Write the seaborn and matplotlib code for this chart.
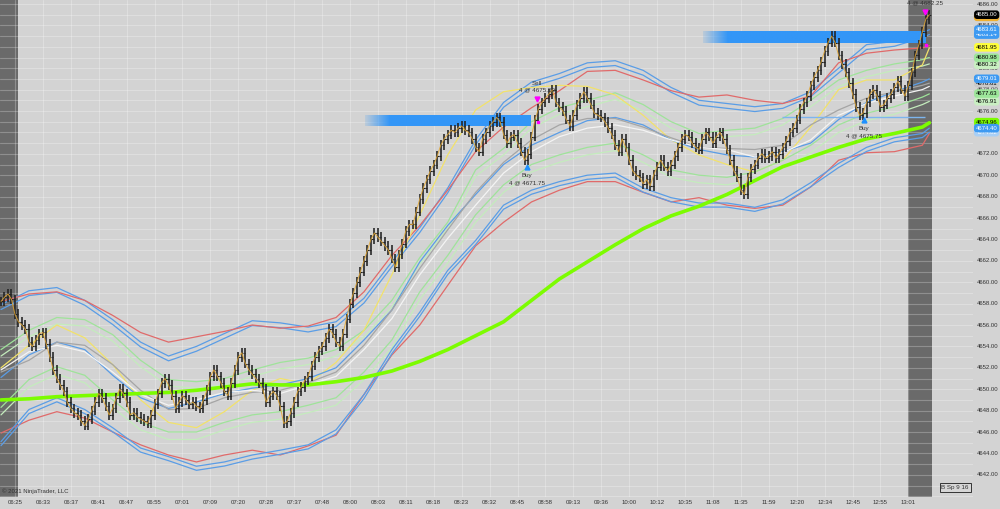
import numpy as np
import matplotlib
matplotlib.use("Agg")
import matplotlib.pyplot as plt
import matplotlib.colors as mcolors
import matplotlib.transforms as mtransforms
import seaborn as sns

# ---------------- data ----------------
closes = [
    4658.2, 4658.6, 4658.9, 4658.4, 4657.0, 4656.3, 4656.0, 4655.6,
    4654.4, 4654.0, 4654.6, 4655.2, 4655.3, 4654.2, 4653.0, 4651.8,
    4651.0, 4650.4, 4649.8, 4648.8, 4648.2, 4647.8, 4647.6, 4647.0,
    4646.6, 4647.2, 4648.0, 4648.8, 4649.6, 4649.2, 4648.4, 4647.6,
    4648.2, 4649.2, 4650.0, 4649.6, 4648.8, 4647.6, 4647.8, 4647.4,
    4647.2, 4647.0, 4646.8, 4647.6, 4648.6, 4649.6, 4650.6, 4651.0,
    4650.4, 4649.4, 4648.2, 4648.8, 4649.4, 4649.0, 4648.6, 4648.8,
    4648.4, 4648.2, 4649.0, 4649.9, 4651.2, 4651.8, 4651.2, 4650.6,
    4649.8, 4649.4, 4650.6, 4651.8, 4653.0, 4653.4, 4652.4, 4651.8,
    4651.4, 4651.0, 4650.6, 4650.0, 4648.8, 4649.4, 4649.8, 4649.4,
    4648.4, 4646.8, 4647.0, 4647.8, 4648.8, 4649.8, 4650.2, 4650.8,
    4651.2, 4652.2, 4653.0, 4653.6, 4654.0, 4654.8, 4655.6, 4655.2,
    4654.4, 4654.0, 4655.2, 4656.6, 4658.0, 4659.0, 4660.0, 4661.0,
    4662.0, 4663.0, 4664.0, 4664.6, 4664.2, 4663.8, 4663.4, 4663.0,
    4662.2, 4661.4, 4662.6, 4663.6, 4664.8, 4665.4, 4665.4, 4666.6,
    4667.8, 4668.8, 4669.6, 4670.4, 4671.0, 4671.8, 4672.8, 4673.4,
    4673.8, 4674.2, 4674.0, 4674.4, 4674.6, 4674.2, 4674.0, 4673.4,
    4672.6, 4672.2, 4673.4, 4674.0, 4674.6, 4675.0, 4675.4, 4675.0,
    4673.8, 4673.0, 4673.6, 4673.8, 4673.0, 4672.2, 4671.4, 4672.0,
    4673.6, 4675.2, 4676.2, 4676.8, 4677.2, 4677.6, 4678.0, 4676.8,
    4676.4, 4676.0, 4675.2, 4674.6, 4675.6, 4676.6, 4677.2, 4677.8,
    4677.2, 4676.6, 4675.8, 4675.6, 4675.4, 4675.0, 4674.4, 4673.8,
    4672.8, 4672.2, 4673.4, 4672.6, 4671.4, 4670.4, 4670.0, 4669.8,
    4669.2, 4669.6, 4669.0, 4670.0, 4670.8, 4671.4, 4670.8, 4670.4,
    4671.0, 4671.8, 4672.6, 4673.4, 4673.8, 4673.6, 4673.0, 4672.6,
    4672.4, 4673.4, 4674.0, 4673.6, 4673.0, 4673.6, 4674.0, 4673.4,
    4672.4, 4671.4, 4670.4, 4669.8, 4668.6, 4668.2, 4669.8, 4670.6,
    4671.0, 4671.6, 4672.0, 4671.6, 4671.8, 4672.2, 4671.6, 4672.0,
    4672.6, 4673.2, 4674.0, 4674.4, 4675.2, 4676.2, 4676.8, 4677.4,
    4678.4, 4679.2, 4679.8, 4680.6, 4681.6, 4682.4, 4683.0, 4682.4,
    4681.2, 4680.4, 4679.6, 4678.6, 4677.6, 4676.4, 4675.6, 4675.8,
    4676.8, 4677.6, 4678.0, 4677.4, 4676.4, 4676.6, 4677.2, 4677.6,
    4678.2, 4678.8, 4678.0, 4677.4, 4678.4, 4679.6, 4681.2, 4682.2,
    4683.4, 4684.6, 4685.0,
]

time_labels = ["06:25", "06:33", "06:37", "06:41", "06:47", "06:55", "07:01", "07:09",
               "07:20", "07:28", "07:37", "07:48", "08:00", "08:03", "08:11", "08:18",
               "08:23", "08:32", "08:45", "08:58", "09:13", "09:36", "10:00", "10:12",
               "10:35", "11:08", "11:35", "11:59", "12:20", "12:34", "12:45", "12:55", "13:01"]
time_label_bars = list(range(4, 4 + 8 * len(time_labels), 8))

# indicator samples at bars 0, 8, ..., 264, 266
line_x = list(range(0, 265, 8)) + [266]
lime_ma = [4649.0, 4649.1, 4649.3, 4649.4, 4649.5, 4649.6, 4649.7, 4649.9, 4650.2, 4650.5,
           4650.4, 4650.4, 4650.7, 4651.1, 4651.7, 4652.6, 4653.7, 4655.0, 4656.3, 4658.3,
           4660.3, 4661.9, 4663.5, 4665.0, 4666.2, 4667.1, 4668.2, 4669.5, 4670.8, 4671.7,
           4672.6, 4673.4, 4673.9, 4674.5, 4674.9]
blue_up = [4657.9, 4659.2, 4659.5, 4658.3, 4656.5, 4654.4, 4653.1, 4654.0, 4655.2, 4656.4,
           4656.2, 4655.8, 4656.3, 4658.5, 4661.9, 4665.1, 4668.8, 4673.3, 4676.8, 4678.7,
           4679.5, 4680.5, 4680.7, 4679.8, 4678.2, 4677.0, 4676.7, 4676.4, 4676.7, 4677.8,
           4680.0, 4682.2, 4682.5, 4683.3, 4683.6]
red_up = [4658.2, 4658.9, 4659.1, 4658.3, 4656.9, 4655.3, 4654.4, 4654.9, 4655.4, 4656.0,
          4655.7, 4655.9, 4656.7, 4659.1, 4662.5, 4665.3, 4668.6, 4672.2, 4674.5, 4676.3,
          4677.9, 4679.7, 4679.8, 4678.9, 4677.9, 4677.3, 4677.5, 4677.0, 4676.7, 4677.4,
          4680.5, 4681.4, 4681.7, 4681.9, 4682.1]
green_up = [4653.7, 4655.5, 4656.7, 4656.5, 4655.1, 4652.7, 4650.9, 4650.7, 4651.0, 4651.8,
            4652.5, 4652.9, 4653.7, 4655.5, 4658.3, 4662.3, 4665.6, 4670.5, 4672.5, 4675.0,
            4676.3, 4677.0, 4677.7, 4676.6, 4675.0, 4673.9, 4674.2, 4674.4, 4675.3, 4677.0,
            4678.9, 4679.8, 4680.4, 4680.8, 4681.0]
yellow_ma = [4652.0, 4654.1, 4656.0, 4654.8, 4652.3, 4649.0, 4646.9, 4646.4, 4647.9, 4649.9,
             4651.0, 4650.5, 4652.5, 4655.5, 4660.7, 4666.3, 4671.9, 4676.1, 4677.8, 4678.2,
             4678.4, 4678.3, 4677.5, 4675.6, 4673.3, 4671.9, 4671.0, 4670.3, 4671.4, 4674.5,
             4678.0, 4678.9, 4678.9, 4680.3, 4681.9]
blue_mid = [4651.1, 4653.2, 4654.4, 4653.7, 4651.3, 4649.2, 4648.2, 4648.8, 4649.6, 4650.1,
            4650.4, 4651.0, 4652.0, 4654.6, 4657.4, 4661.9, 4665.3, 4668.2, 4671.0, 4672.8,
            4674.0, 4675.1, 4675.4, 4674.7, 4673.3, 4672.4, 4671.9, 4671.7, 4672.2, 4673.0,
            4675.2, 4676.8, 4677.8, 4678.7, 4679.0]
white_ma = [4651.8, 4653.5, 4654.1, 4653.5, 4651.6, 4649.5, 4648.5, 4649.0, 4649.7, 4649.9,
            4649.6, 4650.4, 4651.2, 4653.7, 4656.6, 4660.7, 4664.1, 4667.2, 4670.2, 4672.2,
            4673.6, 4674.4, 4674.7, 4674.2, 4673.3, 4672.6, 4672.4, 4671.7, 4672.1, 4673.3,
            4675.6, 4676.7, 4677.4, 4678.0, 4678.3]
gray_ma = [4651.6, 4652.7, 4654.4, 4654.1, 4652.3, 4649.9, 4648.1, 4648.2, 4649.2, 4649.7,
           4649.9, 4650.6, 4651.6, 4654.1, 4657.4, 4661.3, 4664.9, 4668.4, 4671.2, 4673.3,
           4674.7, 4675.3, 4675.3, 4674.5, 4673.5, 4672.6, 4672.5, 4672.4, 4672.8, 4674.7,
           4676.1, 4677.2, 4677.8, 4678.4, 4678.6]
green_lo = [4648.3, 4650.9, 4652.1, 4651.3, 4649.0, 4646.9, 4646.0, 4646.0, 4646.9, 4647.6,
            4647.9, 4648.5, 4649.2, 4651.6, 4654.6, 4659.1, 4662.5, 4666.3, 4669.1, 4671.0,
            4671.9, 4672.6, 4673.0, 4671.9, 4670.5, 4670.0, 4669.8, 4670.3, 4671.4, 4672.8,
            4674.7, 4675.8, 4676.4, 4677.3, 4677.6]
red_lo = [4645.9, 4647.1, 4647.9, 4647.3, 4646.0, 4644.8, 4643.85, 4643.2, 4643.85, 4644.3,
          4643.85, 4644.7, 4645.7, 4649.5, 4653.2, 4656.0, 4659.7, 4663.4, 4665.6, 4667.5,
          4668.6, 4669.4, 4669.4, 4668.4, 4667.5, 4667.9, 4667.2, 4666.9, 4667.2, 4668.9,
          4671.4, 4672.1, 4672.2, 4672.8, 4673.9]
blue_lo = [4645.1, 4648.1, 4649.2, 4648.1, 4646.4, 4644.5, 4643.7, 4642.8, 4643.2, 4643.85,
           4644.3, 4644.8, 4646.2, 4649.5, 4653.7, 4657.2, 4661.1, 4663.9, 4667.2, 4668.6,
           4669.4, 4670.0, 4670.2, 4668.8, 4667.9, 4667.4, 4667.4, 4667.0, 4667.7, 4669.3,
           4671.1, 4672.6, 4673.5, 4673.9, 4674.4]

# zones (bar start, bar end, price bottom, price top)
zone_start = [104.3, 201.1]
zone_end = [151.8, 264.8]
zone_bottom = [4674.6, 4682.35]
zone_top = [4675.6, 4683.38]
buy_line_price = 4675.4
buy_line_span = (223.8, 264.8)

# trade annotations
trade_bar = [153.6, 150.7, 247.3, 264.8]
trade_side = ["Sell", "Buy", "Buy", "Sell"]
trade_text = ["4 @ 4675.50", "4 @ 4671.75", "4 @ 4675.75", "4 @ 4682.25"]
trade_marker_price = [4677.1, 4670.8, 4675.2, 4685.25]
trade_fill_price = [4675.0, None, None, 4682.2]

# right-edge price tags (value, face colour, text colour) drawn bottom to top
tag_values = [4674.02, 4674.96, 4674.40, 4676.91, 4677.63, 4678.61, 4679.01, 4680.32,
              4680.98, 4681.95, 4683.14, 4683.61, 4684.80, 4685.00]
tag_colors = ["#a9cff5", "#7cfc00", "#3d9af2", "#c9efc2", "#9de69a", "#c9c9c9", "#3d9af2",
              "#c9efc2", "#9de69a", "#ffff3a", "#3d9af2", "#3d9af2", "#f0b030", "#000000"]
tag_text_colors = ["#ffffff", "#000000", "#ffffff", "#000000", "#000000", "#000000", "#ffffff",
                   "#000000", "#000000", "#000000", "#ffffff", "#ffffff", "#000000", "#ffffff"]
grid_label_prices = list(range(4642, 4687, 2))

# ---------------- style ----------------
sns.set_theme(style="white")
plt.rcParams['font.family'] = ['Liberation Sans', 'DejaVu Sans']

BG = "#d3d3d3"
STRIP = "#6a6a6a"
PX_PER_BAR = 3.49
PX_PER_PT = 10.7
TOP_PRICE = 4686.374

fig = plt.figure(figsize=(10, 5.09), dpi=100, facecolor=BG)
ax = fig.add_axes([0, 1 - 497 / 509, 973 / 1000, 497 / 509])
ax.set_facecolor(BG)
XLIM = (-1 / PX_PER_BAR, 972 / PX_PER_BAR)
YLIM = (TOP_PRICE - 497 / PX_PER_PT, TOP_PRICE)

# dark session strips
ax.axvspan(-0.3, 4.9, color=STRIP, zorder=0.5, lw=0)
ax.axvspan(259.9, 266.8, color=STRIP, zorder=0.5, lw=0)

# grid
for p in np.arange(4640, 4687, 1):
    ax.axhline(p, color="white", alpha=0.25, lw=0.8, zorder=0.8)
for b in time_label_bars:
    ax.axvline(b, color="white", alpha=0.25, lw=0.8, zorder=0.8)

# indicator lines via seaborn
def sline(vals, color, lw=0.9, offset=0.0, alpha=1.0, z=2):
    sns.lineplot(x=line_x, y=np.asarray(vals) + offset, color=color, lw=lw, alpha=alpha,
                 ax=ax, zorder=z, legend=False, estimator=None, sort=False)

BLUE = "#5a9de6"
RED = "#e06a6a"
sline(blue_up, BLUE)
sline(blue_up, BLUE, offset=-0.45)
sline(red_up, RED)
sline(green_up, "#9fe39a")
sline(green_up, "#c4ecbd", offset=-0.6)
sline(yellow_ma, "#f2e26a")
sline(blue_mid, BLUE)
sline(gray_ma, "#a5a5a5")
sline(white_ma, "#f4f4f4")
sline(green_lo, "#9fe39a")
sline(green_lo, "#c4ecbd", offset=-0.7)
sline(red_lo, RED)
sline(blue_lo, BLUE)
sline(blue_lo, BLUE, offset=-0.38)
sline(lime_ma, "#7cfc00", lw=2.6, z=3)

# zones
def draw_zone(x0, x1, y0, y1, fade=7.0):
    n = 300
    t = np.linspace(0, x1 - x0, n)
    a = np.clip(0.15 + 0.85 * t / fade, 0, 1)
    rgba = np.zeros((1, n, 4))
    rgba[..., :3] = mcolors.to_rgb("#3396f7")
    rgba[0, :, 3] = a
    ax.imshow(rgba, extent=(x0, x1, y0, y1), aspect="auto", interpolation="bilinear", zorder=4)

for s, e, b, t in zip(zone_start, zone_end, zone_bottom, zone_top):
    draw_zone(s, e, b, t)
ax.hlines(buy_line_price, *buy_line_span, color="#7db5ee", lw=1.0, zorder=4)

# price bars
idx = np.arange(len(closes))
c = np.asarray(closes)
o = np.concatenate([[c[0]], c[:-1]])
lo = np.minimum(o, c) - 0.45
hi = np.maximum(o, c) + 0.45
ax.vlines(idx, lo, hi, color="#222222", lw=1.15, zorder=6)
ax.hlines(o, idx - 0.45, idx, color="#222222", lw=0.8, zorder=6)
ax.hlines(c, idx, idx + 0.45, color="#222222", lw=0.8, zorder=6)
sns.lineplot(x=idx, y=c, color="#e2a52e", lw=0.7, alpha=0.85, ax=ax, zorder=6.5, legend=False,
             estimator=None, sort=False)

# trades
for bx, side, txt, mp, fp in zip(trade_bar, trade_side, trade_text, trade_marker_price, trade_fill_price):
    if side == "Sell":
        ax.plot(bx, mp, marker="v", color="#ff00ff", ms=3.5, zorder=7, ls="none")
        ax.text(bx, mp + 1.45, side, fontsize=4.5, color="#333333", ha="center", va="center", zorder=8)
        ax.text(bx, mp + 0.85, txt, fontsize=4.5, color="#333333", ha="center", va="center", zorder=8)
        if fp is not None:
            ax.plot(bx + 0.3, fp, marker="s", color="#ff00ff", ms=1.8, zorder=7, ls="none")
    else:
        ax.plot(bx, mp, marker="^", color="#1e90ff", ms=3.5, zorder=7, ls="none")
        ax.text(bx, mp - 0.85, side, fontsize=4.5, color="#333333", ha="center", va="center", zorder=8)
        ax.text(bx, mp - 1.5, txt, fontsize=4.5, color="#333333", ha="center", va="center", zorder=8)

# right-side labels
blend = mtransforms.blended_transform_factory(fig.transFigure, ax.transData)
for p in grid_label_prices:
    ax.text(0.9985, p, f"{p:.2f}", transform=blend, ha="right", va="center", fontsize=4.3,
            color="#333333", clip_on=False, zorder=9)
for v, fc, tc in zip(tag_values, tag_colors, tag_text_colors):
    ax.text(0.9975, v, f"{v:.2f}", transform=blend, ha="right", va="center", fontsize=4.3,
            color=tc, clip_on=False, zorder=10,
            bbox=dict(boxstyle="round,pad=0.3,rounding_size=0.5", fc=fc, ec="none"))

ax.text(0.3, 4640.5, "\u00a9 2021 NinjaTrader, LLC", fontsize=4.3, color="#333333",
        ha="left", va="center", zorder=9)
ax.text(273.4, 4640.8, "B Sp 9 16", fontsize=4.5, color="#333333", ha="center", va="center",
        zorder=9, bbox=dict(boxstyle="square,pad=0.3", fc="#d6d6d6", ec="#333333", lw=0.7))

# axes
ax.set_xticks(time_label_bars)
ax.set_xticklabels(time_labels)
ax.tick_params(axis="x", length=0, pad=2.5, labelsize=4.3, colors="#333333")
ax.set_yticks([])
for sp in ax.spines.values():
    sp.set_visible(False)
ax.set_xlabel("")
ax.set_ylabel("")
ax.set_xlim(*XLIM)
ax.set_ylim(*YLIM)

fig.savefig("out.png", dpi=100, facecolor=BG)
